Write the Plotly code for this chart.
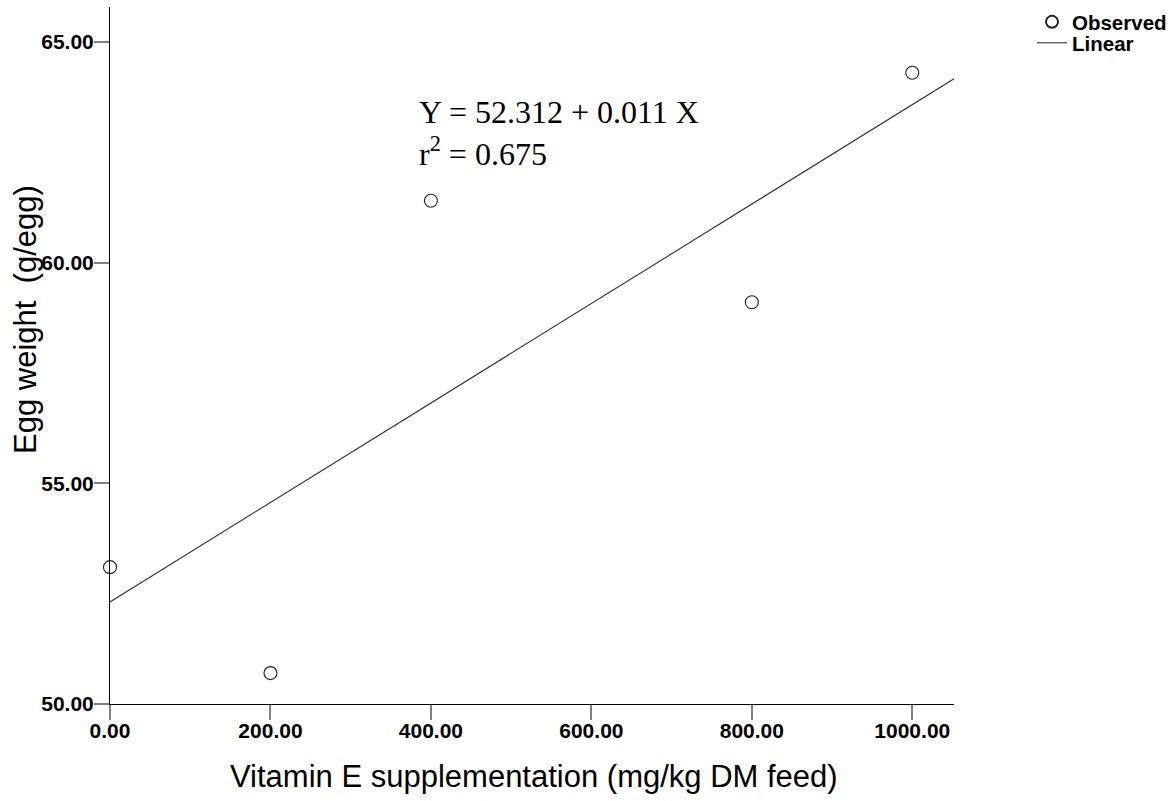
import numpy as np
import plotly.graph_objects as go

# Observed egg weights at each vitamin E level
vitamin_e = [0, 200, 400, 800, 1000]
egg_weight = [53.1, 50.7, 61.4, 59.1, 64.3]

x_ticks = [0, 200, 400, 600, 800, 1000]
y_ticks = [50, 55, 60, 65]
x_range = [0, 1052]
y_range = [50, 65.79]

# Least-squares linear fit
slope, intercept = np.polyfit(vitamin_e, egg_weight, 1)
obs = np.array(egg_weight)
fitted = intercept + slope * np.array(vitamin_e)
r2 = 1 - np.sum((obs - fitted) ** 2) / np.sum((obs - obs.mean()) ** 2)

fit_x = np.array(x_range, dtype=float)
fit_y = intercept + slope * fit_x

fig = go.Figure()
fig.add_trace(go.Scatter(
    x=vitamin_e, y=egg_weight, mode="markers", name="Observed",
    marker=dict(symbol="circle-open", size=13, color="#222222",
                line=dict(width=1.1, color="#222222")),
    cliponaxis=False, legend="legend",
))
fig.add_trace(go.Scatter(
    x=fit_x, y=fit_y, mode="lines", name="Linear",
    line=dict(color="#333333", width=1.1),
    legend="legend2",
))

tick_font = dict(family="Liberation Sans", size=21, color="black", weight="bold")
axis_common = dict(
    showgrid=False, zeroline=False, showline=True, linecolor="black",
    linewidth=1, ticks="outside", tickcolor="#808080", tickwidth=1.5,
    ticklen=15, tickfont=tick_font,
)
fig.update_xaxes(range=x_range, tickvals=x_ticks,
                 ticktext=[f"{v:.2f}" for v in x_ticks],
                 ticklabelstandoff=-7, **axis_common)
fig.update_yaxes(range=y_range, tickvals=y_ticks,
                 ticktext=[f"{v:.2f}" for v in y_ticks],
                 ticklabelstandoff=-4, **axis_common)

fig.add_annotation(
    text=f"Y = {intercept:.3f} + {slope:.3f} X<br>r<sup>2</sup> = {r2:.3f}",
    xref="paper", yref="paper", x=(417 - 110) / 844, y=(704 - 133) / 697,
    xanchor="left", yanchor="middle", align="left", showarrow=False,
    font=dict(family="Liberation Serif", size=32, color="black"),
)
fig.add_annotation(
    text="Vitamin E supplementation (mg/kg DM feed)",
    xref="paper", yref="paper", x=(534 - 110) / 844, y=(704 - 776) / 697,
    xanchor="center", yanchor="middle", showarrow=False,
    font=dict(family="Liberation Sans", size=31, color="black"),
)
fig.add_annotation(
    text="Egg weight\u00a0\u00a0(g/egg)",
    xref="paper", yref="paper", x=(25 - 110) / 844, y=(704 - 320) / 697,
    xanchor="center", yanchor="middle", textangle=-90, showarrow=False,
    font=dict(family="Liberation Sans", size=31, color="black"),
)

legend_font = dict(family="Liberation Sans", size=20.5, color="black", weight="bold")
legend_x = (1032 - 110) / 844
fig.update_layout(
    width=1175, height=801, autosize=False,
    margin=dict(l=110, r=221, t=7, b=97, autoexpand=False),
    paper_bgcolor="white", plot_bgcolor="white",
    showlegend=True,
    legend=dict(
        x=legend_x, y=(704 - 2) / 697, xanchor="left", yanchor="top",
        font=legend_font, bgcolor="rgba(0,0,0,0)", itemsizing="constant",
    ),
    legend2=dict(
        x=legend_x, y=(704 - 23) / 697, xanchor="left", yanchor="top",
        font=legend_font, bgcolor="rgba(0,0,0,0)", itemsizing="trace",
    ),
)

fig.write_html("out.html")
